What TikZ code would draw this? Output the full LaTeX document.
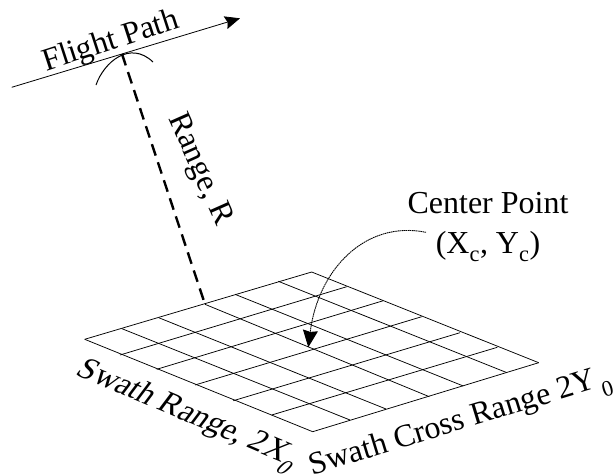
\documentclass[tikz,border=0pt]{standalone}
\usepackage{fontspec}
\setmainfont{Liberation Serif}
\usetikzlibrary{arrows.meta, calc}
\newcommand{\lowsub}[1]{\raisebox{-0.3ex}{\textsubscript{#1}}}

\begin{document}
\begin{tikzpicture}[
    x=1pt, y=-1pt,
    gridline/.style={line width=0.75pt, black},
    label/.style={font=\fontsize{32}{40}\selectfont, inner sep=0pt, align=center},
    flight/.style={-{Stealth[length=15pt, width=13pt, inset=2pt]}, line width=0.8pt},
    rangeline/.style={line width=2.4pt, dash pattern=on 12pt off 7pt},
    pointer/.style={-{Stealth[length=17pt, width=15pt, inset=1.5pt]}, line width=0.9pt, dash pattern=on 1.5pt off 0.6pt}
  ]
    \useasboundingbox (0,0) rectangle (614,474);

    % swath grid
    \foreach \ax/\ay/\bx/\by in {84.7/339.3/312.7/431.7, 122/328.7/350/420, 158.7/317.7/386/409,
        205/304.3/429.3/396.7, 235/294.3/463.3/386, 278.3/281.3/506/372.3, 311.7/272/538.7/362.7}
      \draw[gridline] (\ax,\ay) -- (\bx,\by);
    \foreach \ax/\ay/\bx/\by in {84.7/339.3/311.7/272, 120/355/346.7/286.7, 156.7/369.3/383.3/300.7,
        195/385/421.7/316.7, 233.3/400.7/460/332.7, 271.7/415/497.3/347.3, 312.7/431.7/538.7/362.7}
      \draw[gridline] (\ax,\ay) -- (\bx,\by);

    \coordinate (fstart) at (11.7,87.3);
    \coordinate (fend) at (240,18.3);
    \coordinate (apex) at (122,54);
    \coordinate (swath) at (205,304.3);
    \coordinate (center) at (308.3,347.3);
    \coordinate (pstart) at (426,232.3);

    \draw[flight] (fstart) -- (fend);
    \draw[line width=1pt] (96,85) .. controls (104,62) and (130,40) .. (153,62);
    \draw[rangeline] (apex) -- (swath);
    \draw[pointer] (pstart) .. controls (365,220) and (318,270) .. (center);

    \node[label, rotate=18] (flightlabel) at (111,42) {Flight Path};
    \node[label, rotate=-66] (rangelabel) at (199,170) {Range, R};
    \node[label] (centerlabel) at (488,227) {Center Point\\(X\lowsub{c}, Y\lowsub{c})};
    \node[label, rotate=-23, xslant=0.25, transform shape] (rangewidth) at (187,416) {Swath Range, 2X\lowsub{\textit{0}}};
    \node[label, rotate=17] (crosswidth) at (461,424) {Swath Cross Range 2Y\lowsub{\,0}};
  \end{tikzpicture}
\end{document}
